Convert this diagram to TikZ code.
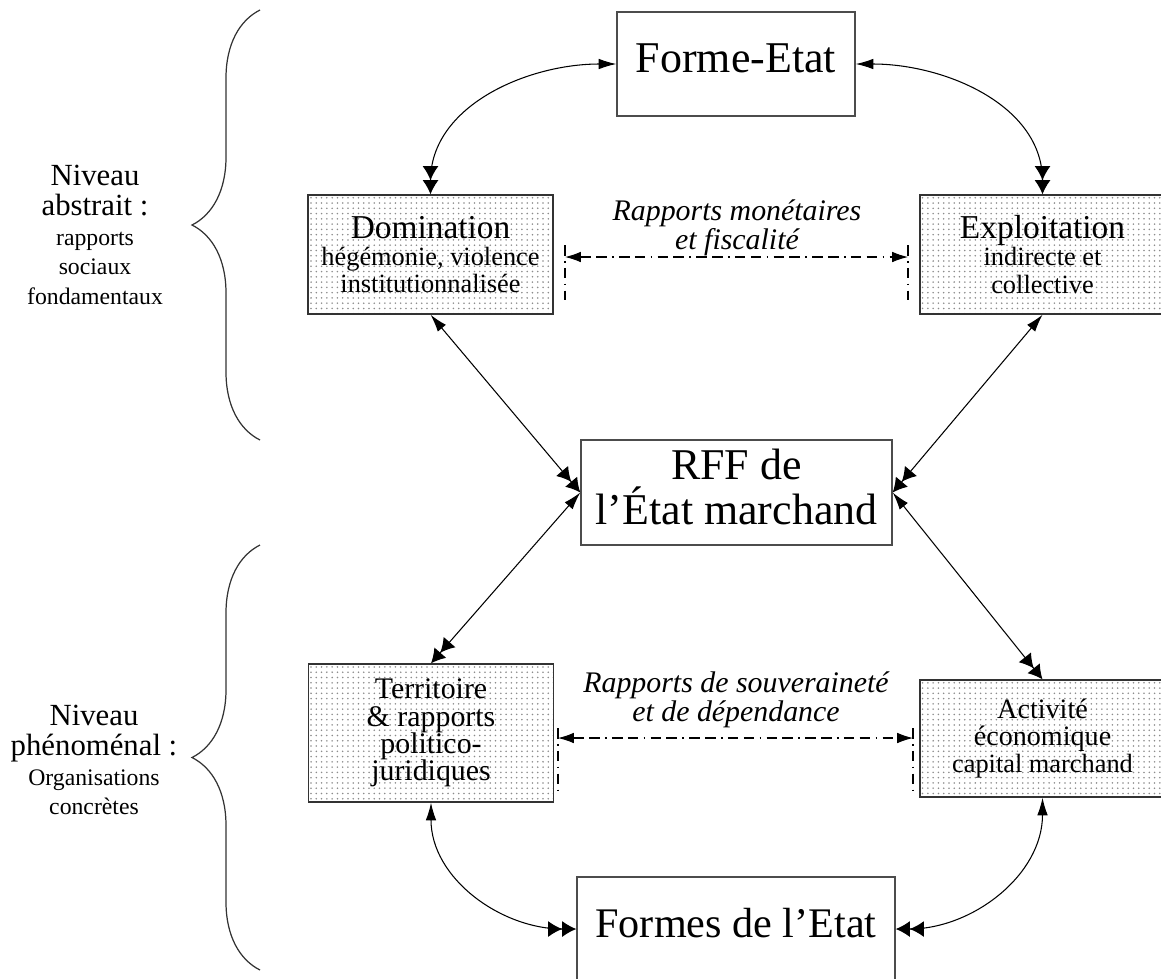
\documentclass[tikz,border=0pt]{standalone}
\usepackage{fontspec}
\setmainfont{Liberation Serif}
\usetikzlibrary{arrows.meta,patterns,decorations.pathreplacing,positioning}

\newcommand{\boxsub}{\fontsize{15}{16}\selectfont}
\newcommand{\sidesub}{\fontsize{13.5}{14}\selectfont}

\tikzset{
  etat/.style={draw=black!70, line width=0.8pt, minimum height=2.08cm, inner sep=0pt, text depth=7pt,
    align=center, font=\fontsize{25}{25.5}\selectfont},
  rapport/.style={draw=black!80, line width=0.8pt, pattern=dots, pattern color=black!45,
    minimum width=4.9cm, inner sep=0pt, align=center, font=\fontsize{19}{15.5}\selectfont},
  link/.style={line width=0.6pt,
    {Latex[length=10pt,width=6pt]}-{Latex[length=8pt,width=9pt]Latex[length=8pt,width=9pt]}},
  relation/.style={line width=0.6pt, dash pattern=on 6pt off 3pt on 6pt off 3pt on 1pt off 3pt,
    {Latex[length=9pt,width=6pt]}-{Latex[length=9pt,width=6pt]}},
  bord/.style={line width=0.6pt, dash pattern=on 6pt off 3pt on 1pt off 3pt},
  legende/.style={align=center, font=\itshape\fontsize{17}{16.5}\selectfont},
  niveau/.style={align=center, font=\fontsize{17.5}{17}\selectfont},
  accolade/.style={decorate, decoration={brace, amplitude=1.36cm}, line width=0.7pt, draw=black!80},
}

\begin{document}
\begin{tikzpicture}
\useasboundingbox (0,0) rectangle (23.22,-19.56);

% boites
\node[etat, minimum width=4.76cm] at (14.72,-1.28) (forme) {Forme-Etat};
\node[rapport, minimum height=2.38cm] at (8.61,-5.09) (domin)
  {Domination\\ \boxsub hégémonie, violence\\ \boxsub institutionnalisée};
\node[rapport, minimum height=2.38cm] at (20.85,-5.09) (exploit)
  {Exploitation\\ \boxsub indirecte et\\ \boxsub collective};
\node[etat, minimum width=6.22cm, minimum height=2.1cm] at (14.73,-9.85) (rff) {RFF de\\l'État marchand};
\node[rapport, minimum height=2.76cm, font=\fontsize{17}{15.5}\selectfont] at (8.62,-14.66) (terr)
  {Territoire\\ \& rapports\\ politico-\\ juridiques};
\node[rapport, minimum height=2.34cm, font=\fontsize{16}{15.5}\selectfont] at (20.85,-14.77) (activ)
  {Activité\\ économique\\ \boxsub capital marchand};
\node[etat, minimum width=6.36cm, font=\fontsize{24}{25}\selectfont] at (14.72,-18.58) (formes) {Formes de l'Etat};

% liens
\foreach \a/\b in {domin.south/rff.west, exploit.south/rff.east, rff.west/terr.north, rff.east/activ.north}
{
    \draw[link] (\a) -- (\b);
}
\foreach \a/\b/\o/\i in {forme.west/domin.north/180/90, forme.east/exploit.north/0/90,
                         terr.south/formes.west/-90/180, activ.south/formes.east/-90/0}
{
    \draw[link] (\a) to[out=\o,in=\i] (\b);
}

% rapports horizontaux
\coordinate (mg) at (11.3,-5.14);
\coordinate (md) at (18.16,-5.14);
\draw[relation] (mg) -- (md);
\draw[bord] ([yshift=0.24cm]mg) -- ([yshift=-0.86cm]mg);
\draw[bord] ([yshift=0.24cm]md) -- ([yshift=-0.86cm]md);
\node[legende] at (14.74,-4.56) (monet) {Rapports monétaires\\et fiscalité};

\coordinate (sg) at (11.16,-14.76);
\coordinate (sd) at (18.26,-14.76);
\draw[relation] (sg) -- (sd);
\draw[bord] ([yshift=0.2cm]sg) -- ([yshift=-1.04cm]sg);
\draw[bord] ([yshift=0.2cm]sd) -- ([yshift=-1.04cm]sd);
\node[legende] at (14.72,-14.0) (souv) {Rapports de souveraineté\\et de dépendance};

% niveaux
\coordinate (ah) at (5.2,-0.2);
\coordinate (ab) at (5.2,-8.8);
\coordinate (ph) at (5.2,-10.9);
\coordinate (pb) at (5.2,-19.4);
\draw[accolade] (ab) -- (ah);
\draw[accolade] (pb) -- (ph);
\node[niveau] at (1.9,-4.7) (abstrait)
  {Niveau\\abstrait :\\ \sidesub rapports\\ \sidesub sociaux\\ \sidesub fondamentaux};
\node[niveau] at (1.88,-15.2) (phenom)
  {Niveau\\phénoménal :\\ \sidesub Organisations\\ \sidesub concrètes};

\end{tikzpicture}
\end{document}
